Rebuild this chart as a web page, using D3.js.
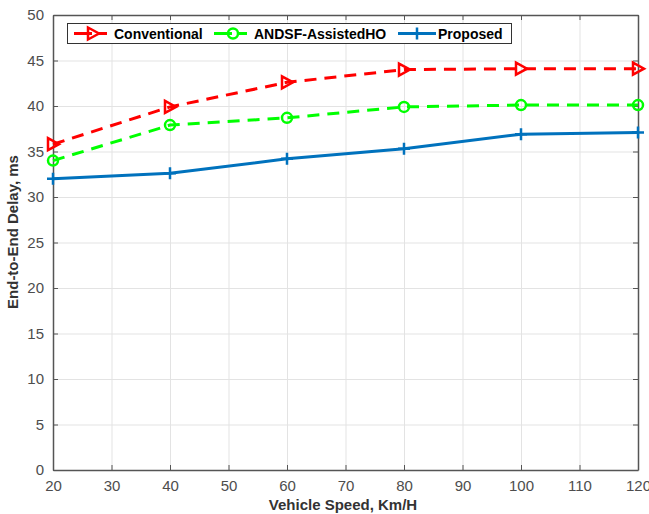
<!DOCTYPE html>
<html>
<head>
<meta charset="utf-8">
<script src="https://cdn.jsdelivr.net/npm/d3@7"></script>
<style>
  body { margin: 0; background: #fff; }
  text { font-family: "Liberation Sans", Arial, sans-serif; }
</style>
</head>
<body>
<svg id="chart" width="649" height="514"></svg>
<script>
var speeds = [20, 40, 60, 80, 100, 120];
var conventional = [35.8, 39.9, 42.6, 44.0, 44.1, 44.1];
var andsf = [34.0, 37.9, 38.7, 39.9, 40.1, 40.1];
var proposed = [32.0, 32.6, 34.2, 35.3, 36.9, 37.1];
var xTicks = [20, 30, 40, 50, 60, 70, 80, 90, 100, 110, 120];
var yTicks = [0, 5, 10, 15, 20, 25, 30, 35, 40, 45, 50];

var series = [
  { name: "Conventional", values: conventional, color: "#ff0000", dash: "12,8", marker: "tri" },
  { name: "ANDSF-AssistedHO", values: andsf, color: "#00ff00", dash: "12,8", marker: "circle" },
  { name: "Proposed", values: proposed, color: "#0072bd", dash: null, marker: "plus" }
];

var svg = d3.select("#chart"),
    pLeft = 53, pRight = 638, pTop = 15, pBottom = 470;

var x = d3.scaleLinear().domain([20, 120]).range([pLeft, pRight]);
var y = d3.scaleLinear().domain([0, 50]).range([pBottom, pTop]);

// grid
var grid = svg.append("g").attr("stroke", "#e3e3e3").attr("stroke-width", 1);
grid.selectAll(".gx").data(xTicks.slice(1, -1)).enter().append("line")
  .attr("x1", function(d) { return x(d) + 0.5; }).attr("x2", function(d) { return x(d) + 0.5; })
  .attr("y1", pTop).attr("y2", pBottom);
grid.selectAll(".gy").data(yTicks.slice(1, -1)).enter().append("line")
  .attr("y1", function(d) { return y(d) + 0.5; }).attr("y2", function(d) { return y(d) + 0.5; })
  .attr("x1", pLeft).attr("x2", pRight);

// axes (MATLAB style, ticks inward)
function styleAxis(g) {
  g.select(".domain").attr("stroke", "#555").attr("stroke-width", 1.5);
  g.selectAll("line").attr("stroke", "#555");
  g.selectAll("text").attr("font-size", 15).attr("fill", "#4d4d4d");
}
svg.append("g").attr("transform", "translate(0," + pBottom + ")")
  .call(d3.axisBottom(x).tickValues(xTicks).tickSizeInner(-5).tickSizeOuter(0).tickPadding(10))
  .call(styleAxis);
svg.append("g").attr("transform", "translate(" + pLeft + ",0)")
  .call(d3.axisLeft(y).tickValues(yTicks).tickSizeInner(-5).tickSizeOuter(0).tickPadding(9))
  .call(styleAxis);
svg.append("g").attr("transform", "translate(0," + pTop + ")")
  .call(d3.axisTop(x).tickValues(xTicks).tickSizeInner(-5).tickSizeOuter(0).tickFormat(""))
  .call(styleAxis);
svg.append("g").attr("transform", "translate(" + pRight + ",0)")
  .call(d3.axisRight(y).tickValues(yTicks).tickSizeInner(-5).tickSizeOuter(0).tickFormat(""))
  .call(styleAxis);

// markers
function drawMarker(g, type, color, cx, cy) {
  if (type === "tri") {
    g.append("path").attr("d", "M" + (cx - 5) + "," + (cy - 6) + "L" + (cx + 6) + "," + cy + "L" + (cx - 5) + "," + (cy + 6) + "Z")
      .attr("fill", "none").attr("stroke", color).attr("stroke-width", 2.5);
  } else if (type === "circle") {
    g.append("circle").attr("cx", cx).attr("cy", cy).attr("r", 5)
      .attr("fill", "none").attr("stroke", color).attr("stroke-width", 2.5);
  } else {
    g.append("path").attr("d", "M" + (cx - 6) + "," + cy + "H" + (cx + 6) + "M" + cx + "," + (cy - 6) + "V" + (cy + 6))
      .attr("fill", "none").attr("stroke", color).attr("stroke-width", 2.5);
  }
}

var line = d3.line().x(function(d, i) { return x(speeds[i]); }).y(function(d) { return y(d); });

series.forEach(function(s) {
  var g = svg.append("g");
  g.append("path").datum(s.values).attr("d", line)
    .attr("fill", "none").attr("stroke", s.color).attr("stroke-width", 3)
    .attr("stroke-dasharray", s.dash);
  s.values.forEach(function(v, i) { drawMarker(g, s.marker, s.color, x(speeds[i]), y(v)); });
});

// legend
var lg = svg.append("g");
lg.append("rect").attr("x", 67.5).attr("y", 23.5).attr("width", 444).attr("height", 20)
  .attr("fill", "#fff").attr("stroke", "#333").attr("stroke-width", 1);
var legX = [74, 214, 398];
series.forEach(function(s, i) {
  var lx = legX[i], ly = 33.5;
  lg.append("line").attr("x1", lx).attr("x2", lx + 38).attr("y1", ly).attr("y2", ly)
    .attr("stroke", s.color).attr("stroke-width", 3).attr("stroke-dasharray", s.dash ? "18,5,10" : null);
  drawMarker(lg, s.marker, s.color, lx + 19, ly);
  lg.append("text").attr("x", lx + 40).attr("y", ly + 5).attr("font-size", 14).attr("font-weight", "bold")
    .attr("fill", "#000").text(s.name);
});

// axis titles
svg.append("text").attr("x", 343).attr("y", 510).attr("text-anchor", "middle")
  .attr("font-size", 15).attr("font-weight", "bold").attr("fill", "#333").text("Vehicle Speed, Km/H");
svg.append("text").attr("transform", "translate(18,232) rotate(-90)")
  .attr("text-anchor", "middle").attr("font-size", 15).attr("font-weight", "bold").attr("fill", "#333")
  .text("End-to-End Delay, ms");
</script>
</body>
</html>
